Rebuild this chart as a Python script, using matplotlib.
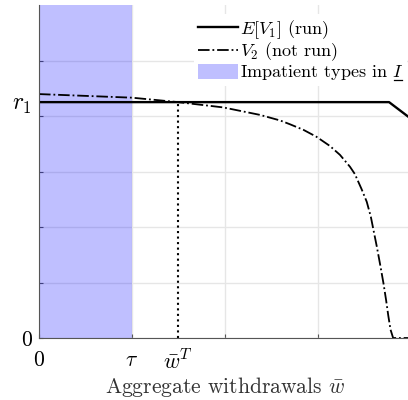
import matplotlib
matplotlib.use("Agg")
import matplotlib.pyplot as plt
from matplotlib.lines import Line2D
import numpy as np

plt.rcParams['font.family'] = 'serif'
plt.rcParams['font.serif'] = ['cmr10']
plt.rcParams['mathtext.fontset'] = 'cm'
plt.rcParams['axes.formatter.use_mathtext'] = True

# threshold values
tau = 0.25
w_T = 0.374
r1 = 0.85

# E[V1] (run)
run_w = [0.0, 0.941, 1.0]
run_v = [0.85, 0.85, 0.79]

# V2 (not run)
norun_w = [0.0, 0.25, 0.374, 0.495, 0.594, 0.648, 0.675, 0.711, 0.746, 0.782,
           0.809, 0.836, 0.849, 0.867, 0.881, 0.892, 0.899, 0.908, 0.917, 0.926,
           0.933, 0.939, 0.945, 0.952, 1.0]
norun_v = [0.879, 0.866, 0.850, 0.831, 0.804, 0.784, 0.770, 0.750, 0.725, 0.692,
           0.660, 0.617, 0.591, 0.537, 0.491, 0.437, 0.390, 0.330, 0.265, 0.197,
           0.137, 0.080, 0.030, 0.0, 0.0]

fig = plt.figure(figsize=(4.08, 4.0), dpi=100)
ax = fig.add_axes([39/408, 62/400, 372/408, 333/400])

ax.axvspan(0, tau, color='blue', alpha=0.25, lw=0, label=r'Impatient types in $I$')
ax.plot(run_w, run_v, color='black', lw=1.7, label=r'$E[V_1]$ (run)')
ax.plot(norun_w, norun_v, color='black', lw=1.3, ls='-.', label=r'$V_2$ (not run)')
ax.plot([w_T, w_T], [0, r1], color='black', lw=1.5, ls=':')

ax.set_xlim(0, 1)
ax.set_ylim(0, 1.2)
ax.set_xticks([0, tau, 0.5, 0.75, 1])
ax.set_xticklabels(['0', r'$\tau$', '', '', '1'])
ax.set_xticks([w_T], [r'$\bar{w}^T$'], minor=True)
ax.tick_params(axis='x', which='minor', length=0, labelsize=16, pad=8)
ax.tick_params(axis='x', which='major', pad=9)
ax.set_yticks([0, 0.2, 0.4, 0.6, 0.8, 1.0], ['0', '', '', '', '', ''])
ax.set_yticks([r1], [r'$r_1$'], minor=True)
ax.tick_params(axis='y', which='minor', length=0, labelsize=17, pad=5)
ax.tick_params(axis='y', which='major', pad=5)
ax.tick_params(which='major', direction='in', length=3, color='#555555', labelsize=15.5)
ax.grid(True, color='#e6e6e6', lw=1)
ax.set_axisbelow(True)
for s in ['top', 'right']:
    ax.spines[s].set_visible(False)
for s in ['left', 'bottom']:
    ax.spines[s].set_color('#555555')

ax.set_xlabel(r'Aggregate withdrawals $\bar{w}$', fontsize=15.5, color='#333333', labelpad=1)

h, l = ax.get_legend_handles_labels()
order = [1, 2, 0]
leg = ax.legend([h[i] for i in order], [l[i] for i in order], loc='upper left',
                bbox_to_anchor=(0.418, 0.972), borderaxespad=0, frameon=True,
                edgecolor='none', framealpha=1, fancybox=False, fontsize=13,
                handlelength=2.2, handleheight=0.9, handletextpad=0.12,
                labelspacing=0.0, borderpad=0.2)

# underline under the I (mathtext has no \underline)
fig.canvas.draw()
r = fig.canvas.get_renderer()
bb = leg.get_texts()[2].get_window_extent(r)
ul = Line2D([bb.x1 - 9, bb.x1 - 1], [bb.y0 + 2, bb.y0 + 2], color='black', lw=0.9,
            transform=None)
fig.add_artist(ul)

fig.savefig('out.png', dpi=100)
